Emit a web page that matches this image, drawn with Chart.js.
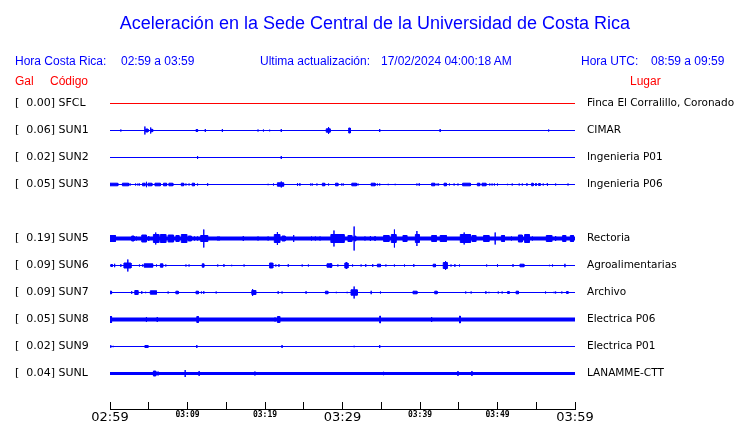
<!DOCTYPE html>
<html lang="es">
<head>
<meta charset="UTF-8">
<title>Aceleración Sede Central UCR</title>
<script src="https://cdn.jsdelivr.net/npm/chart.js"></script>
<style>
    body { margin: 0; background: #fff; }
    #marco { position: relative; width: 740px; height: 423px; overflow: hidden; }
    #grafico { position: absolute; left: 0; top: 0; }
    .txt { position: absolute; font-family: "Liberation Sans", Arial, sans-serif; font-size: 12px; line-height: 1; white-space: pre; }
    .azul { color: #0000ff; }
    .rojo { color: #ff0000; }
    #titulo { position: absolute; left: 0; width: 750px; top: 14px; text-align: center; font-family: "Liberation Sans", Arial, sans-serif; font-size: 18px; line-height: 1; color: #0000ff; }
</style>
</head>
<body>
<div id="marco">
    <canvas id="grafico" width="740" height="423"></canvas>
    <div id="titulo">Aceleración en la Sede Central de la Universidad de Costa Rica</div>
    <div class="txt azul" style="left:15px;top:55px">Hora Costa Rica:</div>
    <div class="txt azul" style="left:121px;top:55px">02:59 a 03:59</div>
    <div class="txt azul" style="left:260px;top:55px">Ultima actualización:</div>
    <div class="txt azul" style="left:381px;top:55px">17/02/2024 04:00:18 AM</div>
    <div class="txt azul" style="left:581px;top:55px">Hora UTC:</div>
    <div class="txt azul" style="left:651px;top:55px">08:59 a 09:59</div>
    <div class="txt rojo" style="left:15px;top:75px">Gal</div>
    <div class="txt rojo" style="left:50px;top:75px">Código</div>
    <div class="txt rojo" style="left:630px;top:75px">Lugar</div>
</div>

<script>
// estaciones (fila 4 queda vacia)
const codigos = ['SFCL', 'SUN1', 'SUN2', 'SUN3', 'SUN5', 'SUN6', 'SUN7', 'SUN8', 'SUN9', 'SUNL'];
const lugares = ['Finca El Corralillo, Coronado', 'CIMAR', 'Ingenieria P01', 'Ingenieria P06',
                 'Rectoria', 'Agroalimentarias', 'Archivo', 'Electrica P06', 'Electrica P01', 'LANAMME-CTT'];
const gal = [0.00, 0.06, 0.02, 0.05, 0.19, 0.09, 0.09, 0.05, 0.02, 0.04];
const filas = [0, 1, 2, 3, 5, 6, 7, 8, 9, 10];

// eje de tiempo: minutos desde las 02:59
const marcasMin = [0, 5, 10, 15, 20, 25, 30, 35, 40, 45, 50, 55, 60];
const etiquetasX = ['02:59', '', '03:09', '', '03:19', '', '03:29', '', '03:39', '', '03:49', '', '03:59'];
const etiquetasGrandes = ['02:59', '03:29', '03:59'];

// eventos de cada traza: [minuto inicio, minuto fin, amplitud]
const eventosSFCL = [];
const eventosSUN1 = [[1.4,1.4,1],[4.5,4.5,4],[4.6,4.9,1.5],[5.25,5.25,3],[5.3,5.5,1.2],[11.1,11.3,1],[12.3,12.3,1.5],
    [14.5,14.5,1.5],[19.1,19.1,1],[19.8,19.8,1],[20.6,20.6,0.8],[22.1,22.1,1.5],[27.9,28.4,1.7],[28.2,28.2,3.5],
    [30.8,31.0,2.5],[34.8,34.8,1.5],[42.6,42.6,1.5],[56.6,56.6,1]];
const eventosSUN2 = [[11.3,11.3,1.5],[22.1,22.1,1.5]];
const eventosSUN3 = [[0,1.0,1.3],[1.6,2.4,1.3],[2.6,2.6,1],[3.3,3.3,1],[3.6,3.6,1],[3.8,3.8,1],[4.2,4.5,1.3],[4.7,4.7,2.7],
    [4.9,5.4,1.3],[5.8,6.5,1.3],[6.9,7.3,1.3],[7.6,8.1,1.3],[9.2,9.5,1.3],[9.8,9.8,1],[10.2,10.2,1],[10.6,10.9,1.3],
    [11.3,11.3,1],[12.6,12.6,1.3],[20.4,20.4,0.7],[21.1,21.1,1],[21.6,22.4,1.7],[22.1,22.1,3],[24.2,24.2,1.3],
    [24.5,24.5,1.3],[25.9,25.9,1],[26.1,26.1,1],[26.7,26.7,1],[27.4,27.7,1.3],[28.2,28.2,1],[29.1,29.4,1.3],
    [29.9,29.9,1],[30.1,30.1,1],[31.2,31.8,1.3],[32.0,32.0,1],[33.7,34.2,1.3],[34.5,34.5,1],[34.8,34.8,1],
    [35.9,35.9,0.7],[36.8,36.8,0.7],[39.6,39.6,1],[39.9,39.9,1.3],[41.5,41.9,1.3],[42.2,42.2,1],[42.4,42.4,1],
    [43.1,43.4,1.3],[43.8,43.8,1],[44.4,44.4,1],[44.9,44.9,1],[45.5,46.5,1.3],[47.4,47.7,1.3],[48.0,48.5,1.3],
    [49.0,49.0,1],[49.3,49.3,1],[49.6,49.6,1],[50.0,50.0,1],[51.3,51.3,0.7],[51.9,51.9,1],[52.8,52.8,1],
    [53.2,53.2,1],[53.8,53.8,1.3],[54.4,54.6,1.3],[54.9,55.0,1],[55.3,55.5,1],[55.9,55.9,1],[56.4,56.5,1.3],
    [57.5,57.5,1],[59.1,59.1,1]];
const eventosSUN5 = [[0,0.7,3],[2.8,3.1,2.5],[3.4,3.4,2],[4.1,4.7,3.5],[5.0,5.0,2.5],[5.6,6.3,4],[5.9,5.9,6],
    [6.5,7.2,4],[7.5,8.2,3.5],[8.5,8.9,3],[9.2,9.9,4],[10.1,10.5,2.5],[10.9,10.9,2],[11.3,11.3,2],[11.7,12.6,3],
    [12.1,12.1,9],[13.1,13.1,1.5],[13.8,14.2,1.5],[17.2,17.2,2.5],[19.1,19.1,2],[20.4,20.4,2],[21.2,21.9,4],
    [21.6,21.6,6.5],[22.2,22.6,2.5],[23.7,23.7,3.5],[26.0,26.0,2],[26.5,26.5,2],[27.1,27.1,2],[28.5,30.2,4],
    [28.9,28.9,8],[30.7,31.2,3],[31.5,31.5,12],[31.6,31.7,2.5],[32.9,32.9,2],[33.6,33.6,2.5],[34.2,34.2,2.5],
    [35.3,36.0,3],[36.3,36.9,4],[36.7,36.7,9],[37.8,38.3,3],[39.4,39.9,4],[39.6,39.6,7.5],[41.5,42.1,3],
    [42.6,43.4,3],[45.2,46.5,4],[45.7,45.7,6],[46.7,47.2,3],[48.2,48.9,3],[49.7,49.7,6],[50.5,50.9,3],
    [51.8,51.8,2],[52.7,53.2,3.5],[53.5,54.1,4],[54.5,54.5,2],[56.3,57.0,3],[57.5,57.5,2.5],[58.4,58.8,3],
    [59.4,59.8,3]];
const eventosSUN6 = [[0.1,0.3,1],[0.6,0.6,1.7],[1.4,1.4,1.3],[1.8,2.7,2.5],[2.3,2.3,6],[3.8,3.8,1],[4.2,4.2,1],
    [4.4,5.5,1.7],[6.0,6.0,1],[6.5,6.8,1.7],[7.2,7.2,1],[9.8,9.8,1],[10.2,10.2,1],[11.9,12.1,1.7],[13.9,13.9,1],
    [14.7,14.7,1.3],[15.7,15.7,0.7],[17.3,17.3,1],[20.6,21.0,2.5],[21.4,21.4,1],[21.8,21.8,1.3],[23.0,23.0,1.3],
    [24.8,24.8,1],[25.6,25.6,1],[28.0,28.6,1.7],[28.5,28.5,2.5],[29.4,29.4,1],[30.3,30.7,2.5],[30.5,30.5,3.5],
    [31.3,31.3,1],[32.4,32.4,1],[33.0,33.0,1.3],[33.9,33.9,1.3],[34.5,34.9,1.3],[35.6,35.6,1],[36.7,36.7,1],
    [38.0,38.0,1],[39.2,39.2,1.3],[41.7,42.0,1.3],[43.0,43.5,3],[43.3,43.3,4.5],[44.0,44.0,1],[44.5,44.5,1.3],
    [45.1,45.1,1],[48.6,48.6,1],[50.0,50.0,1.3],[52.0,52.0,1.3],[52.9,53.4,1.3],[56.7,56.7,0.7],[57.1,57.1,1],
    [58.7,58.7,1.7]];
const eventosSUN7 = [[0,0.2,1.3],[2.8,2.8,1.3],[3.2,3.6,2],[4.1,4.1,1.3],[4.6,4.6,0.7],[5.2,6.0,1.7],[7.5,7.5,1],
    [8.5,8.8,1.3],[11.1,11.4,1.3],[11.8,11.8,1],[12.1,12.1,1.3],[13.7,13.7,1],[18.3,18.8,2],[18.4,18.4,3.5],
    [21.7,21.7,1.3],[22.2,22.2,1],[25.3,25.3,1.3],[27.8,28.1,1.3],[29.2,29.2,0.7],[30.6,30.6,0.7],[31.1,31.9,2.7],
    [31.5,31.5,6],[33.7,33.7,1.7],[34.9,34.9,1],[39.1,39.6,1.3],[41.9,42.2,1.3],[45.9,45.9,1],[46.6,46.6,1],
    [48.5,48.5,1.3],[48.9,48.9,0.7],[50.1,50.1,1],[50.6,50.6,1],[51.3,51.5,1],[52.4,52.7,1.3],[56.2,56.2,1],
    [57.3,57.3,0.7],[57.5,57.5,1],[58.3,58.3,1],[58.9,59.1,1]];
const eventosSUN8 = [[0,0.2,3],[4.7,4.7,2.5],[6.1,6.1,2.5],[11.2,11.4,3],[21.3,21.3,2],[21.6,21.9,3],[34.8,34.9,3.5],
    [41.5,41.5,2.5],[45.1,45.2,3.5],[45.6,45.6,1.5],[46.4,46.4,1.5],[47.9,47.9,1.5],[52.0,52.0,1.5]];
const eventosSUN9 = [[0.1,0.1,1.3],[0.4,0.4,0.7],[4.5,4.9,1],[11.2,11.2,1.5],[22.2,22.2,1.5],[31.5,31.5,0.7],[34.8,34.8,1.5]];
const eventosSUNL = [[0.9,0.9,1.5],[5.6,5.9,2.5],[6.2,6.2,2],[9.7,9.7,3.5],[11.5,11.5,2.5],[18.7,18.7,2],
    [35.3,35.3,1.7],[44.9,44.9,2.5],[46.7,46.7,2.5]];

const eventos = [eventosSFCL, eventosSUN1, eventosSUN2, eventosSUN3, eventosSUN5,
                 eventosSUN6, eventosSUN7, eventosSUN8, eventosSUN9, eventosSUNL];

// estilo de cada traza
const colores = ['#ff0000', '#0000ff', '#0000ff', '#0000ff', '#0000ff', '#0000ff', '#0000ff', '#0000ff', '#0000ff', '#0000ff'];
const grosores = [1, 1, 1, 1, 4, 1, 1, 4, 1, 3];

// geometria: 27 px por fila, area de 90 a 409
const filaPx = 27;
const yMin = -0.5;
const yMax = yMin + (409 - 90) / filaPx;

function etiquetaFila(v, lista) {
    const i = filas.indexOf(Math.round(v));
    return i < 0 ? '' : lista[i];
}
const izq = filas.map((f, i) => '[' + gal[i].toFixed(2).padStart(6, ' ') + '] ' + codigos[i]);

// sin relleno extra de las escalas, para que el area quede fija
function sinRelleno(s) {
    s.paddingTop = 0; s.paddingBottom = 0; s.paddingLeft = 0; s.paddingRight = 0;
}

let datasets = [];
codigos.forEach((c, i) => {
    const r = filas[i];
    // linea base
    datasets.push({
        data: [{x: 0, y: r}, {x: 60, y: r}],
        borderColor: colores[i], borderWidth: grosores[i], pointRadius: 0, fill: false
    });
    // ráfagas como rectangulos rellenos
    let pts = [];
    eventos[i].forEach(([t0, t1, a]) => {
        const h = a / filaPx;
        pts.push({x: t0, y: r - h}, {x: t1, y: r - h}, {x: t1, y: r + h}, {x: t0, y: r + h}, {x: t0, y: r - h}, {x: t1, y: null});
    });
    datasets.push({
        data: pts, borderColor: colores[i], backgroundColor: colores[i], borderWidth: 1,
        pointRadius: 0, fill: 'shape', spanGaps: false
    });
});

let ctx = document.getElementById('grafico').getContext('2d');
let chart = new Chart(ctx, {
    type: 'line',
    data: { datasets: datasets },
    options: {
        responsive: false,
        animation: false,
        events: [],
        layout: { padding: { left: 15, right: 0, top: 90, bottom: 0 } },
        elements: { line: { tension: 0 } },
        plugins: { legend: { display: false }, tooltip: { enabled: false } },
        scales: {
            x: {
                type: 'linear', min: 0, max: 60,
                afterBuildTicks: s => { s.ticks = marcasMin.map(v => ({value: v})); },
                afterFit: s => { s.height = 14; sinRelleno(s); },
                grid: { drawOnChartArea: false, drawTicks: true, tickLength: -7, color: '#000' },
                border: { display: true, color: '#000', width: 1 },
                ticks: {
                    autoSkip: false, maxRotation: 0, padding: 8, color: '#000',
                    callback: v => etiquetasX[marcasMin.indexOf(v)] || '',
                    font: c => {
                        const lab = etiquetasX[c.index] || '';
                        return etiquetasGrandes.includes(lab)
                            ? {family: 'DejaVu Sans', size: 13}
                            : {family: 'DejaVu Sans Mono', size: 8, weight: 'bold'};
                    }
                }
            },
            y: {
                type: 'linear', position: 'left', reverse: true, min: yMin, max: yMax,
                afterBuildTicks: s => { s.ticks = filas.map(v => ({value: v})); },
                afterFit: s => { s.width = 95; sinRelleno(s); },
                grid: { display: false, drawTicks: false },
                border: { display: false },
                ticks: {
                    autoSkip: false, crossAlign: 'far', padding: 0, color: '#000',
                    font: { family: 'DejaVu Sans', size: 11 },
                    callback: v => etiquetaFila(v, izq)
                }
            },
            y2: {
                type: 'linear', position: 'right', reverse: true, min: yMin, max: yMax,
                afterBuildTicks: s => { s.ticks = filas.map(v => ({value: v})); },
                afterFit: s => { s.width = 165; sinRelleno(s); },
                grid: { display: false, drawTicks: false },
                border: { display: false },
                ticks: {
                    autoSkip: false, crossAlign: 'near', padding: 12, color: '#000',
                    font: { family: 'DejaVu Sans', size: 10.5 },
                    callback: v => etiquetaFila(v, lugares)
                }
            }
        }
    }
});
</script>
</body>
</html>
